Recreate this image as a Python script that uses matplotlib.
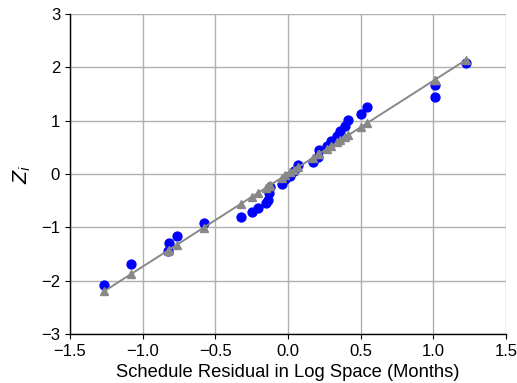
import matplotlib
matplotlib.use("Agg")
import matplotlib.pyplot as plt
import numpy as np

plt.rcParams['font.family'] = ['Liberation Sans', 'DejaVu Sans']

# Sorted residuals (x) and standard normal scores Z_i (y)
residuals = [-1.264, -1.080, -0.828, -0.818, -0.766, -0.579, -0.322, -0.246,
             -0.209, -0.149, -0.136, -0.129, -0.122, -0.044, -0.018, 0.016,
             0.039, 0.067, 0.170, 0.207, 0.214, 0.269, 0.297, 0.338,
             0.361, 0.395, 0.411, 0.503, 0.540, 1.011, 1.011, 1.221]
z_scores = [-2.075, -1.6875, -1.45, -1.29, -1.156, -0.919, -0.8125, -0.7125,
            -0.6375, -0.544, -0.48, -0.356, -0.2375, -0.18, -0.094, -0.03,
            0.0625, 0.1625, 0.219, 0.3125, 0.456, 0.53, 0.625, 0.72,
            0.8125, 0.906, 1.0125, 1.125, 1.2625, 1.45, 1.675, 2.075]
# Fitted line
fit_intercept = 0.007
fit_slope = 1.745

x_ticks = [-1.5, -1.0, -0.5, 0.0, 0.5, 1.0, 1.5]
y_ticks = [-3, -2, -1, 0, 1, 2, 3]

fig = plt.figure(figsize=(5.17, 3.83), dpi=100)
ax = fig.add_axes([0.135, 0.128, 0.844, 0.835])

x = np.array(residuals)
y_fit = fit_intercept + fit_slope * x

ax.plot(x, z_scores, 'o', color='#0000ff', markersize=6.4, linestyle='none', zorder=3)
ax.plot(x, y_fit, '-^', color='#888888', markersize=6.4, linewidth=1.4, zorder=4)

ax.set_xlim(-1.5, 1.5)
ax.set_ylim(-3, 3)
ax.set_xticks(x_ticks)
ax.set_yticks(y_ticks)
ax.grid(True, color='#b0b0b0', linewidth=1.0)
ax.set_axisbelow(True)
for s in ['top', 'right']:
    ax.spines[s].set_visible(False)
for s in ['left', 'bottom']:
    ax.spines[s].set_color('black')
    ax.spines[s].set_linewidth(1.0)
ax.tick_params(axis='both', labelsize=12, length=3.5, direction='out', colors='black')
ax.set_xlabel('Schedule Residual in Log Space (Months)', fontsize=13.2, labelpad=4)
ax.set_ylabel('$Z_i$', fontsize=14, labelpad=6)

fig.savefig('out.png', dpi=100)
